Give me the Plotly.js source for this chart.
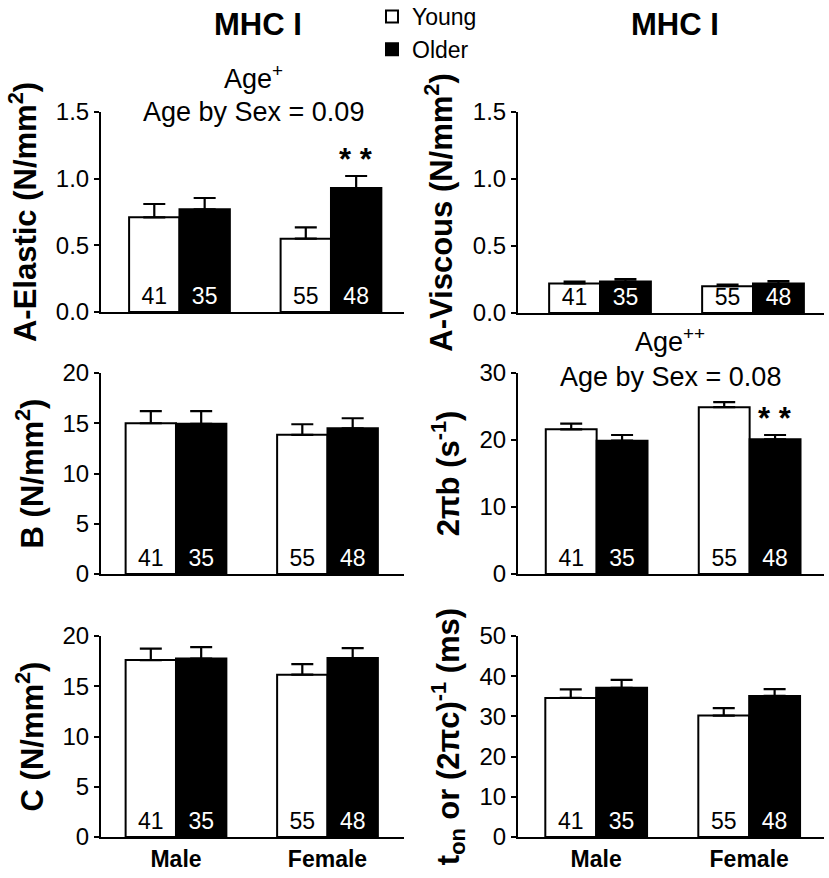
<!DOCTYPE html>
<html>
<head>
<meta charset="utf-8">
<script src="https://cdn.plot.ly/plotly-3.0.1.min.js"></script>
<style>html,body{margin:0;padding:0;background:#fff;}#chart{width:829px;height:878px;}</style>
</head>
<body>
<div id="chart"></div>
<script>
// ---- data ----
const categories = ['Male', 'Female'];
const groupNames = ['Young', 'Older'];
const countsYoung = [41, 55];
const countsOlder = [35, 48];

const aElasticYoung = [0.71, 0.55];
const aElasticYoungSE = [0.10, 0.085];
const aElasticOlder = [0.77, 0.93];
const aElasticOlderSE = [0.085, 0.09];

const aViscousYoung = [0.22, 0.20];
const aViscousYoungSE = [0.015, 0.012];
const aViscousOlder = [0.235, 0.22];
const aViscousOlderSE = [0.018, 0.018];

const bYoung = [15.0, 13.85];
const bYoungSE = [1.2, 1.05];
const bOlder = [14.95, 14.5];
const bOlderSE = [1.25, 1.0];

const twoPiBYoung = [21.6, 24.9];
const twoPiBYoungSE = [0.85, 0.75];
const twoPiBOlder = [19.9, 20.1];
const twoPiBOlderSE = [0.85, 0.65];

const cYoung = [17.6, 16.15];
const cYoungSE = [1.15, 1.05];
const cOlder = [17.75, 17.8];
const cOlderSE = [1.15, 1.0];

const tOnYoung = [34.6, 30.2];
const tOnYoungSE = [2.1, 1.85];
const tOnOlder = [37.1, 35.1];
const tOnOlderSE = [2.0, 1.7];

// ---- styling ----
const FONT = 'Liberation Sans, Arial, Helvetica, sans-serif';
const BARGAP = 0.335;

const panels = [
  {n: '', young: aElasticYoung, youngSE: aElasticYoungSE, older: aElasticOlder, olderSE: aElasticOlderSE,
   range: [0, 1.5], dtick: 0.5, fmt: '.1f', title: 'A-Elastic (N/mm<sup>2</sup>)',
   xd: [101/829, 404/829], yd: [1-312/878, 1-112/878], xr: -0.518, side: 'L', bottom: false},
  {n: '2', young: aViscousYoung, youngSE: aViscousYoungSE, older: aViscousOlder, olderSE: aViscousOlderSE,
   range: [0, 1.5], dtick: 0.5, fmt: '.1f', title: 'A-Viscous (N/mm<sup>2</sup>)',
   xd: [518/829, 824/829], yd: [1-313/878, 1-112/878], xr: -0.536, side: 'R', bottom: false},
  {n: '3', young: bYoung, youngSE: bYoungSE, older: bOlder, olderSE: bOlderSE,
   range: [0, 20], dtick: 5, fmt: 'd', title: 'B (N/mm<sup>2</sup>)',
   xd: [101/829, 404/829], yd: [1-574/878, 1-373/878], xr: -0.495, side: 'L', bottom: false},
  {n: '4', young: twoPiBYoung, youngSE: twoPiBYoungSE, older: twoPiBOlder, olderSE: twoPiBOlderSE,
   range: [0, 30], dtick: 10, fmt: 'd', title: '2πb (s<sup>-1</sup>)',
   xd: [518/829, 824/829], yd: [1-574/878, 1-373/878], xr: -0.514, side: 'R', bottom: false},
  {n: '5', young: cYoung, youngSE: cYoungSE, older: cOlder, olderSE: cOlderSE,
   range: [0, 20], dtick: 5, fmt: 'd', title: 'C (N/mm<sup>2</sup>)',
   xd: [101/829, 404/829], yd: [1-837/878, 1-636/878], xr: -0.495, side: 'L', bottom: true},
  {n: '6', young: tOnYoung, youngSE: tOnYoungSE, older: tOnOlder, olderSE: tOnOlderSE,
   range: [0, 50], dtick: 10, fmt: 'd', title: 't<sub>on</sub> or (2πc)<sup>-1</sup> (ms)',
   xd: [518/829, 824/829], yd: [1-837/878, 1-636/878], xr: -0.511, side: 'R', bottom: true}
];

const traces = [];
const layout = {
  width: 829, height: 878,
  margin: {l: 0, r: 0, t: 0, b: 0, autoexpand: false},
  paper_bgcolor: '#fff', plot_bgcolor: '#fff',
  font: {family: FONT, color: '#000', size: 22},
  barmode: 'group', bargap: BARGAP, bargroupgap: 0,
  showlegend: true,
  legend: {x: 372/829, y: 1 + 5/878, xanchor: 'left', yanchor: 'top',
           font: {family: FONT, size: 23, color: '#000'}, bgcolor: 'rgba(0,0,0,0)',
           tracegroupgap: 0, itemclick: false, itemdoubleclick: false},
  annotations: [],
  shapes: []
};

panels.forEach((p, i) => {
  const xa = 'x' + p.n, ya = 'y' + p.n;
  traces.push({
    type: 'bar', name: groupNames[0], x: categories, y: p.young, xaxis: xa, yaxis: ya,
    marker: {color: '#fff', line: {color: '#000', width: 2}},
    error_y: {type: 'data', symmetric: false, array: p.youngSE, arrayminus: p.young.map(() => 0),
              color: '#000', thickness: 2.2, width: 11},
    text: countsYoung.map(String), textposition: 'inside', insidetextanchor: 'start',
    textangle: 0, constraintext: 'none', cliponaxis: false,
    textfont: {family: FONT, size: 23, color: '#000'},
    showlegend: i === 0, legendgroup: 'young', hoverinfo: 'skip'
  });
  traces.push({
    type: 'bar', name: groupNames[1], x: categories, y: p.older, xaxis: xa, yaxis: ya,
    marker: {color: '#000', line: {color: '#000', width: 2}},
    error_y: {type: 'data', symmetric: false, array: p.olderSE, arrayminus: p.older.map(() => 0),
              color: '#000', thickness: 2.2, width: 11},
    text: countsOlder.map(String), textposition: 'inside', insidetextanchor: 'start',
    textangle: 0, constraintext: 'none', cliponaxis: false,
    textfont: {family: FONT, size: 23, color: '#fff'},
    showlegend: i === 0, legendgroup: 'older', hoverinfo: 'skip'
  });

  const xKey = 'xaxis' + p.n, yKey = 'yaxis' + p.n;
  layout[xKey] = {
    domain: p.xd, anchor: ya, type: 'category', range: [p.xr, p.xr + 2],
    showline: true, linecolor: '#000', linewidth: 2, ticks: '', showgrid: false, zeroline: false,
    showticklabels: p.bottom, tickfont: {family: FONT, size: 23, color: '#000', weight: 'bold'},
    fixedrange: true
  };
  layout[yKey] = {
    domain: p.yd, anchor: xa, range: p.range, dtick: p.dtick, tick0: 0, tickformat: p.fmt,
    showline: true, linecolor: '#000', linewidth: 2, ticks: 'outside', ticklen: 5, tickwidth: 2,
    tickcolor: '#000', showgrid: false, zeroline: false,
    tickfont: {family: FONT, size: 24, color: '#000'},
    title: {text: p.title, font: {family: FONT, size: 31, color: '#000', weight: 'bold'},
            standoff: p.side === 'L' ? 10 : 11},
    automargin: false, fixedrange: true
  };
});

// significance markers over the Older female bar
function starAnn(n, older, olderSE) {
  return {xref: 'x' + n, yref: 'y' + n, x: 1 + (1 - BARGAP) / 4, y: older[1] + olderSE[1],
          text: '* *', showarrow: false, yanchor: 'bottom', yshift: -3,
          font: {family: FONT, size: 31, color: '#000', weight: 'bold'}};
}
layout.annotations.push(starAnn('', aElasticOlder, aElasticOlderSE));
layout.annotations.push(starAnn('4', twoPiBOlder, twoPiBOlderSE));

function txt(text, xpx, bottomPx, size, bold) {
  return {xref: 'paper', yref: 'paper', x: xpx / 829, y: 1 - bottomPx / 878,
          xanchor: 'center', yanchor: 'bottom', showarrow: false, text: text,
          font: {family: FONT, size: size, color: '#000', weight: bold ? 'bold' : 'normal'}};
}
layout.annotations.push(txt('MHC I', 258, 44, 31, true));
layout.annotations.push(txt('MHC I', 675, 44, 31, true));
layout.annotations.push(txt('Age<sup>+</sup>', 254, 96, 27, false));
layout.annotations.push(txt('Age by Sex = 0.09', 254, 129, 27, false));
layout.annotations.push(txt('Age<sup>++</sup>', 670, 359, 27, false));
layout.annotations.push(txt('Age by Sex = 0.08', 670, 394, 27, false));

Plotly.newPlot('chart', traces, layout, {staticPlot: true, displayModeBar: false});
</script>
</body>
</html>
